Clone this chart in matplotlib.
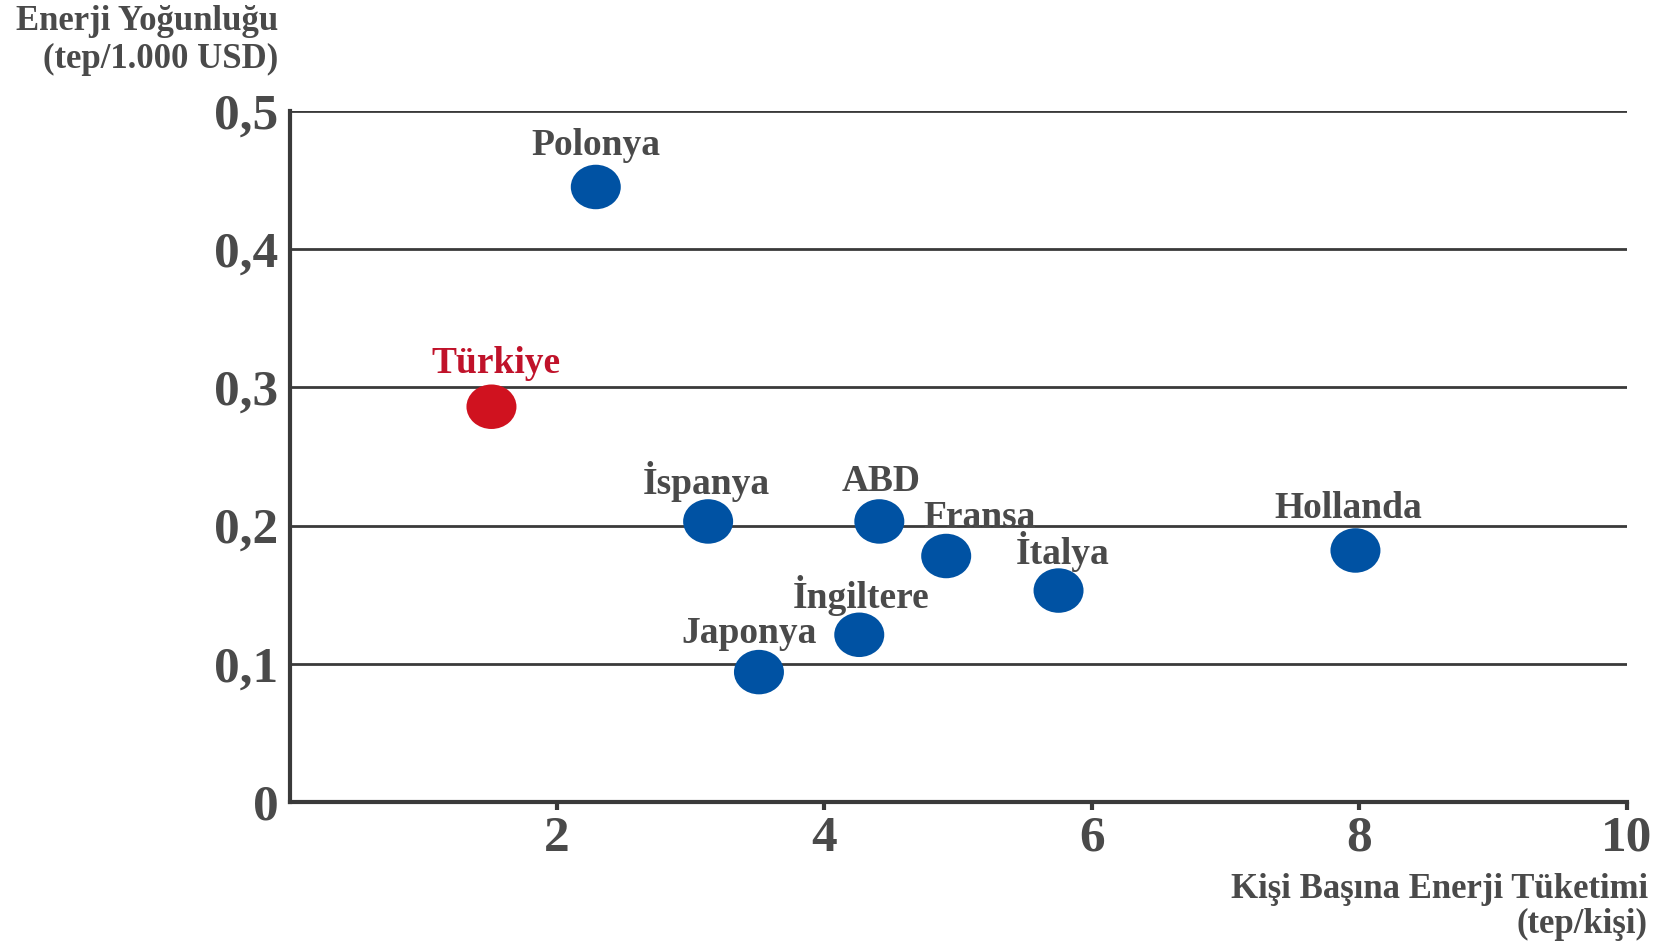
import numpy as np
import matplotlib
matplotlib.use('Agg')
import matplotlib.pyplot as plt
from matplotlib.path import Path
from matplotlib.transforms import Affine2D

# data
countries = ['Polonya', 'Türkiye', 'İspanya', 'ABD', 'Fransa', 'İtalya',
             'Hollanda', 'İngiltere', 'Japonya']
consumption = [2.29, 1.51, 3.13, 4.41, 4.91, 5.75, 7.97, 4.26, 3.51]   # tep/kişi
intensity = [0.445, 0.286, 0.203, 0.203, 0.178, 0.153, 0.182, 0.121, 0.094]  # tep/1.000 USD
highlight = 'Türkiye'

x_ticks = [2, 4, 6, 8, 10]
y_ticks = [0, 0.1, 0.2, 0.3, 0.4, 0.5]
y_tick_labels = ['0', '0,1', '0,2', '0,3', '0,4', '0,5']

# label offsets (points) relative to each marker
label_offsets = [(0, 30), (3, 31), (-1, 29), (1, 29), (24, 28), (3, 28),
                 (-5, 30), (1, 28), (-7, 28)]

BLUE = '#0052a3'
RED = '#d0121f'
TEXT = '#4a4a4a'
LINE = '#3a3a3a'

plt.rcParams['font.family'] = ['Liberation Serif', 'DejaVu Serif']
plt.rcParams['font.weight'] = 'bold'

fig = plt.figure(figsize=(16.61, 9.46), dpi=100)
ax = fig.add_axes([0.1743, 0.1522, 0.8052, 0.7305])

ellipse = Path.unit_circle().transformed(Affine2D().scale(1.0, 0.89))

for name, x, y in zip(countries, consumption, intensity):
    col = RED if name == highlight else BLUE
    ax.scatter([x], [y], s=36 ** 2, marker=ellipse, color=col,
               edgecolors='none', zorder=3, clip_on=False)

for name, x, y, off in zip(countries, consumption, intensity, label_offsets):
    col = '#c0122a' if name == highlight else TEXT
    ax.annotate(name, (x, y), xytext=off, textcoords='offset points',
                ha='center', va='center', fontsize=27, fontweight='bold',
                color=col, zorder=4)

ax.set_xlim(0, 10)
ax.set_ylim(0, 0.5)

for yv in y_ticks[1:]:
    ax.axhline(yv, color=LINE, lw=2, zorder=1)

for s in ['top', 'right']:
    ax.spines[s].set_visible(False)
for s in ['left', 'bottom']:
    ax.spines[s].set_color(LINE)
    ax.spines[s].set_linewidth(3)

ax.set_xticks(x_ticks)
ax.set_xticklabels([str(v) for v in x_ticks])
ax.set_yticks(y_ticks)
ax.set_yticklabels(y_tick_labels)
ax.tick_params(axis='x', length=6, width=3, color=LINE, pad=4,
               labelsize=37, labelcolor=TEXT)
ax.tick_params(axis='y', length=0, pad=8, labelsize=37, labelcolor=TEXT)

fig.text(278 / 1661, 1 - 21 / 946, 'Enerji Yoğunluğu', ha='right', va='center',
         fontsize=25, fontweight='bold', color=TEXT)
fig.text(278 / 1661, 1 - 59 / 946, '(tep/1.000 USD)', ha='right', va='center',
         fontsize=25, fontweight='bold', color=TEXT)
fig.text(1648 / 1661, 1 - 889 / 946, 'Kişi Başına Enerji Tüketimi', ha='right',
         va='center', fontsize=25, fontweight='bold', color=TEXT)
fig.text(1648 / 1661, 1 - 924 / 946, '(tep/kişi)', ha='right', va='center',
         fontsize=25, fontweight='bold', color=TEXT)

fig.savefig('out.png', dpi=100)
